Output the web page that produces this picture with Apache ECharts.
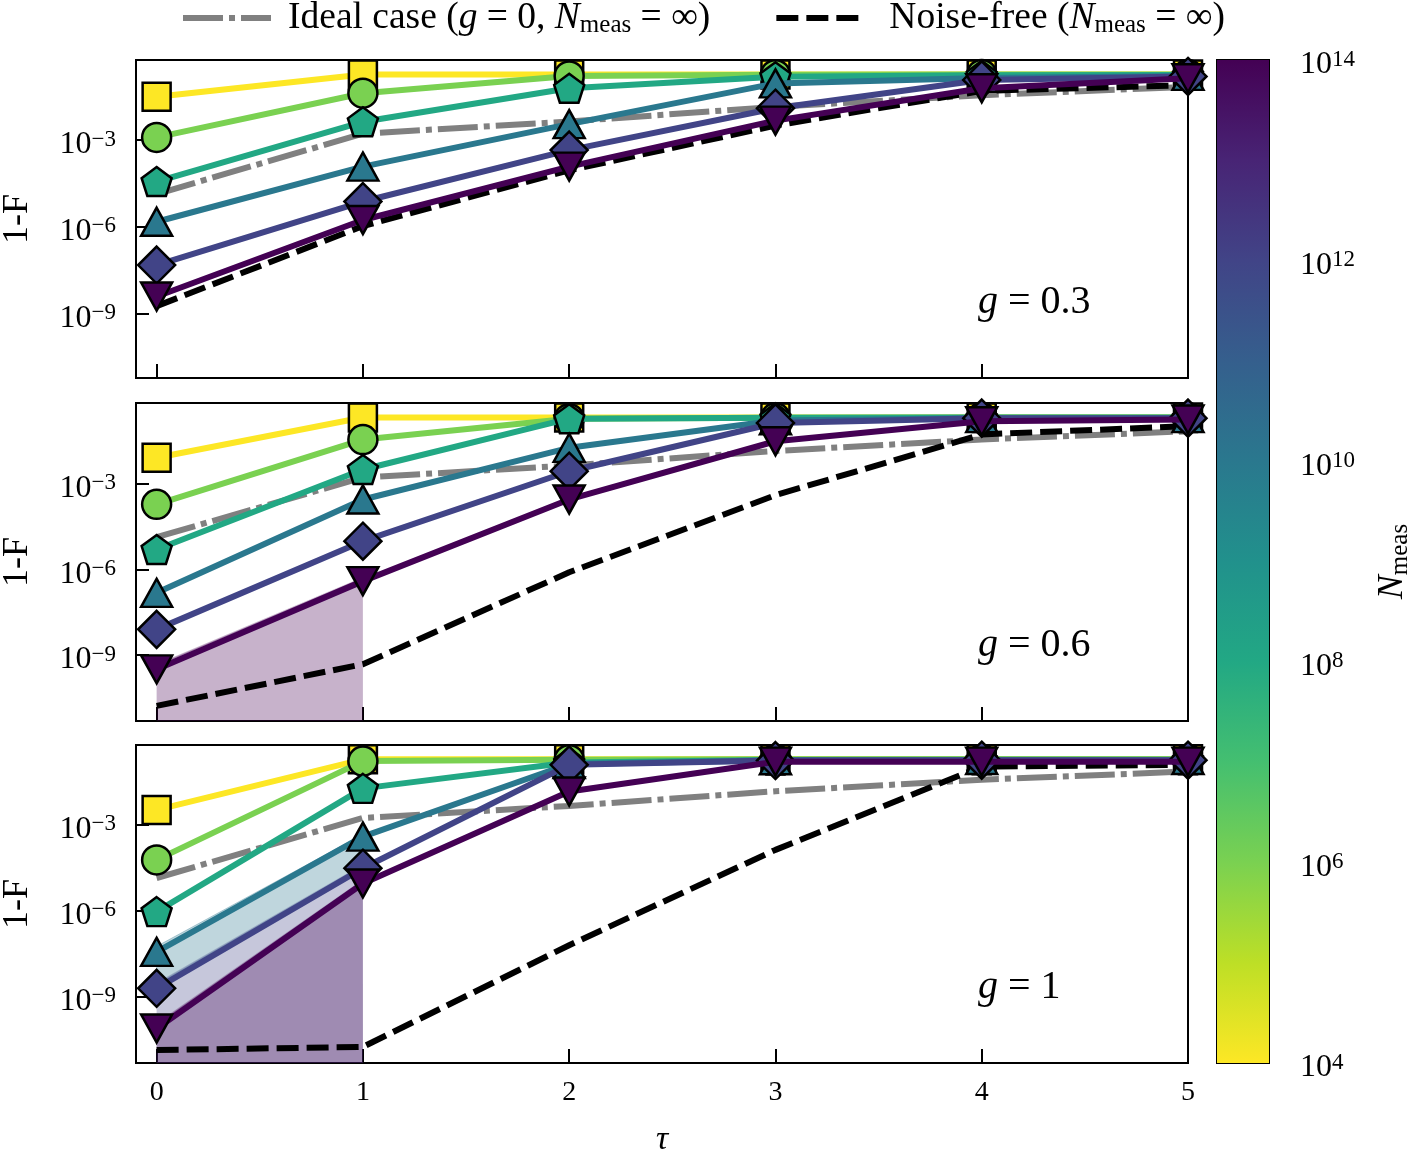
<!DOCTYPE html>
<html>
<head>
<meta charset="utf-8" />
<title>1-F vs tau</title>
<script src="https://cdn.jsdelivr.net/npm/echarts@6/dist/echarts.min.js"></script>
<style>
html, body {margin:0; padding:0; background:#fff;}
#chart {width:1410px; height:1152px;}
</style>
</head>
<body>
<div id="chart"></div>
<script>
// values are log10(1-F); columns are tau = 0..5
var taus = [0, 1, 2, 3, 4, 5];
var nExp = [4, 6, 8, 10, 12, 14];          // N_meas = 10^n
var gLabels = ['0.3', '0.6', '1'];
var yRanges = [[-11.24, -0.23], [-11.31, -0.17], [-11.31, -0.24]];
var yTicks = [-9, -6, -3];
var cbarTicks = [4, 6, 8, 10, 12, 14];

var ideal = [-4.87, -2.78, -2.36, -1.85, -1.45, -1.16];

// g = 0.3
var g03 = [
  [-1.50, -0.73, -0.73, -0.73, -0.73, -0.73],
  [-2.91, -1.38, -0.78, -0.74, -0.73, -0.73],
  [-4.44, -2.37, -1.21, -0.81, -0.76, -0.75],
  [-5.83, -3.92, -2.45, -1.04, -0.85, -0.78],
  [-7.33, -5.13, -3.35, -1.90, -0.92, -0.80],
  [-8.42, -5.77, -3.92, -2.33, -1.21, -0.86]
];
var noise03 = [-8.75, -5.98, -4.05, -2.50, -1.30, -1.10];

// g = 0.6
var g06 = [
  [-2.09, -0.68, -0.68, -0.68, -0.68, -0.68],
  [-3.72, -1.45, -0.72, -0.69, -0.68, -0.68],
  [-5.30, -2.50, -0.72, -0.69, -0.68, -0.68],
  [-6.82, -3.55, -1.74, -0.78, -0.70, -0.70],
  [-8.10, -5.01, -2.56, -0.87, -0.70, -0.70],
  [-9.50, -6.41, -3.55, -1.51, -0.81, -0.75]
];
var noise06 = [-10.78, -9.32, -6.10, -3.40, -1.27, -0.98];

// g = 1
var g1 = [
  [-2.50, -0.74, -0.74, -0.74, -0.74, -0.74],
  [-4.24, -0.80, -0.75, -0.74, -0.74, -0.74],
  [-6.04, -1.75, -0.85, -0.76, -0.75, -0.75],
  [-7.44, -3.43, -0.90, -0.77, -0.76, -0.76],
  [-8.71, -4.53, -0.93, -0.78, -0.77, -0.77],
  [-10.11, -5.06, -1.86, -0.82, -0.82, -0.82]
];
var noise1 = [-10.86, -10.75, -7.21, -3.89, -0.99, -0.93];

// wide uncertainty bands (tau 0..1); "down" bands reach the bottom of the axis
var bandTau = [0, 1];
var band06_n14 = [-9.35, -6.30];
var band1_n14 = [-9.95, -4.95];
var band1_n12 = [-8.55, -4.42];
var band1_n10_hi = [-7.25, -3.35];
var band1_n10_lo = [-8.60, -4.45];

var colors = ['#fde725', '#7ad151', '#22a884', '#2a788e', '#414487', '#440154'];
var markers = ['rect', 'circle', 'path://M0,-1L0.951,-0.309L0.588,0.809L-0.588,0.809L-0.951,-0.309Z', 'triangle', 'diamond', 'triangle'];
var sizes = [[28, 28], 29, [30, 29], [31, 28], [37, 37], [31, 28]];

var FONT = "'Liberation Serif', 'DejaVu Serif', serif";
var panels = [
  {rows: g03, noise: noise03},
  {rows: g06, noise: noise06},
  {rows: g1, noise: noise1}
];
var gridTops = [60, 403, 745];

function pts(ys, xs) {
  return (xs || taus).map(function (t, i) { return [t, Math.pow(10, ys[i])]; });
}
function supFmt(e) {
  var s = e < 0 ? '\u2212' + (-e) : '' + e;
  return '10{sup|' + s + '}';
}
var supRich = {sup: {fontSize: 23, lineHeight: 16, verticalAlign: 'top', fontFamily: FONT, color: '#000'}};

var chart = echarts.init(document.getElementById('chart'));

var grids = [], xAxes = [], yAxes = [], series = [], graphics = [];

panels.forEach(function (p, k) {
  grids.push({left: 136, width: 1052, top: gridTops[k], height: 318, outerBoundsMode: 'none', containLabel: false,
    show: true, borderColor: '#000', borderWidth: 2, backgroundColor: 'transparent'});
  xAxes.push({
    type: 'value', gridIndex: k, min: -0.1, max: 5,
    axisLine: {show: false, onZero: false}, splitLine: {show: false},
    axisTick: {inside: true, length: 14, customValues: taus, lineStyle: {color: '#000', width: 2}},
    axisLabel: {show: k === 2, customValues: taus, margin: 16, color: '#000', fontSize: 28, fontFamily: FONT},
    name: k === 2 ? '\u03c4' : '', nameLocation: 'middle', nameGap: 60,
    nameTextStyle: {fontSize: 34, fontStyle: 'italic', fontFamily: FONT, color: '#000'}
  });
  yAxes.push({
    type: 'log', logBase: 10, gridIndex: k,
    min: Math.pow(10, yRanges[k][0]), max: Math.pow(10, yRanges[k][1]),
    axisLine: {show: false, onZero: false}, splitLine: {show: false}, minorTick: {show: false},
    axisTick: {inside: true, length: 13, customValues: yTicks.map(function (e) { return Math.pow(10, e); }),
      lineStyle: {color: '#000', width: 2}},
    axisLabel: {
      customValues: yTicks.map(function (e) { return Math.pow(10, e); }),
      margin: 20, color: '#000', fontSize: 32, fontFamily: FONT, lineHeight: 34, padding: [10, 0, 0, 0],
      formatter: function (v) { return supFmt(Math.round(Math.log10(v))); },
      rich: supRich
    },
    name: '1-F', nameLocation: 'middle', nameGap: 100,
    nameTextStyle: {fontSize: 36, fontFamily: FONT, color: '#000'}
  });

  var ax = {xAxisIndex: k, yAxisIndex: k, silent: true, animation: false, emphasis: {disabled: true}};

  function downBand(ys, col) {
    series.push(Object.assign({type: 'line', data: pts(ys, bandTau), symbol: 'none', z: 1,
      lineStyle: {width: 1.5, color: col}, areaStyle: {origin: 'start', color: col, opacity: 1}}, ax));
  }
  function rangeBand(lo, hi, col) {
    series.push(Object.assign({type: 'custom', z: 1,
      data: bandTau.map(function (t, i) { return [t, Math.pow(10, lo[i]), Math.pow(10, hi[i])]; }),
      encode: {x: 0, y: [1, 2]},
      renderItem: function (params, api) {
        var i = params.dataIndex;
        if (i >= bandTau.length - 1) return null;
        var poly = [[bandTau[i], hi[i]], [bandTau[i + 1], hi[i + 1]], [bandTau[i + 1], lo[i + 1]], [bandTau[i], lo[i]]]
          .map(function (q) { return api.coord([q[0], Math.pow(10, q[1])]); });
        return {type: 'polygon', shape: {points: poly}, style: {fill: col, stroke: col, lineWidth: 1}};
      }}, ax));
  }
  if (k === 1) downBand(band06_n14, 'rgba(68,1,84,0.3)');
  if (k === 2) {
    downBand(band1_n12, 'rgba(65,68,135,0.3)');
    downBand(band1_n14, 'rgba(68,1,84,0.3)');
    rangeBand(band1_n10_lo, band1_n10_hi, 'rgba(42,120,142,0.3)');
  }

  series.push(Object.assign({name: 'Ideal case', type: 'line', data: pts(ideal), symbol: 'none', z: 2,
    lineStyle: {color: '#808080', width: 6, type: [40, 6, 6, 6]}, itemStyle: {color: '#808080'}}, ax));
  series.push(Object.assign({name: 'Noise-free', type: 'line', data: pts(p.noise), symbol: 'none', z: 2,
    lineStyle: {color: '#000', width: 6, type: [22, 8]}, itemStyle: {color: '#000'}}, ax));

  p.rows.forEach(function (row, i) {
    series.push(Object.assign({
      type: 'line', data: pts(row), z: 3 + i,
      symbol: markers[i], symbolSize: sizes[i], symbolRotate: i === 5 ? 180 : 0,
      lineStyle: {color: colors[i], width: 6},
      itemStyle: {color: colors[i], borderColor: '#000', borderWidth: 2.5, opacity: 1}
    }, ax));
  });

  graphics.push({type: 'text', x: 978, y: gridTops[k] + 242, silent: true,
    style: {text: '{i|g} = ' + gLabels[k], fontSize: 40, fontFamily: FONT, fill: '#000', verticalAlign: 'middle',
      rich: {i: {fontStyle: 'italic', fontSize: 40, fontFamily: FONT}}}});
});

// colorbar
grids.push({left: 1217, width: 52, top: 60, height: 1003, outerBoundsMode: 'none', containLabel: false,
  show: true, borderColor: '#000', borderWidth: 2});
xAxes.push({type: 'category', gridIndex: 3, data: ['cb'], show: false});
yAxes.push({
  type: 'value', gridIndex: 3, min: cbarTicks[0], max: cbarTicks[cbarTicks.length - 1], interval: 2, position: 'right',
  axisLine: {show: false}, splitLine: {show: false},
  axisTick: {inside: false, length: 13, lineStyle: {color: '#000', width: 2}},
  axisLabel: {margin: 31, color: '#000', fontSize: 32, fontFamily: FONT, lineHeight: 34, padding: [10, 0, 0, 0],
    formatter: function (v) { return supFmt(v); }, rich: supRich},
  name: '{i|N}{sub|meas}', nameLocation: 'middle', nameRotate: 90, nameGap: 104,
  nameTextStyle: {fontSize: 36, fontFamily: FONT, color: '#000', lineHeight: 40,
    rich: {i: {fontStyle: 'italic', fontSize: 36, fontFamily: FONT}, sub: {fontSize: 25, lineHeight: 16, verticalAlign: 'bottom', fontFamily: FONT}}}
});
series.push({type: 'bar', xAxisIndex: 3, yAxisIndex: 3, data: [nExp[nExp.length - 1]], barWidth: '100%',
  silent: true, animation: false, clip: true,
  itemStyle: {color: new echarts.graphic.LinearGradient(0, 0, 0, 1, [
    {offset: 0, color: '#440154'}, {offset: 0.1, color: '#482475'}, {offset: 0.2, color: '#414487'},
    {offset: 0.3, color: '#355f8d'}, {offset: 0.4, color: '#2a788e'}, {offset: 0.5, color: '#21918c'},
    {offset: 0.6, color: '#22a884'}, {offset: 0.7, color: '#44bf70'}, {offset: 0.8, color: '#7ad151'},
    {offset: 0.9, color: '#bddf26'}, {offset: 1, color: '#fde725'}])}});

var legendLine = {width: 6};
var option = {
  animation: false,
  backgroundColor: '#fff',
  textStyle: {fontFamily: FONT},
  legend: {
    left: 180, top: -2, padding: 0, itemWidth: 88, itemHeight: 14, itemGap: 63,
    data: [
      {name: 'Ideal case', textStyle: {padding: [0, 0, 0, 12]}, itemStyle: {opacity: 0}, lineStyle: legendLine},
      {name: 'Noise-free', textStyle: {padding: [0, 0, 0, 20]}, itemStyle: {opacity: 0}, lineStyle: legendLine}
    ],
    formatter: function (name) {
      if (name === 'Ideal case') return 'Ideal case ({i|g} = 0, {i|N}{sub|meas} = \u221e)';
      return 'Noise-free ({i|N}{sub|meas} = \u221e)';
    },
    textStyle: {fontSize: 37.5, fontFamily: FONT, color: '#000', lineHeight: 40,
      rich: {i: {fontStyle: 'italic', fontSize: 37.5, fontFamily: FONT},
             sub: {fontSize: 25, lineHeight: 15, verticalAlign: 'bottom', fontFamily: FONT}}}
  },
  grid: grids,
  xAxis: xAxes,
  yAxis: yAxes,
  series: series,
  graphic: graphics
};
chart.setOption(option);
</script>
</body>
</html>
